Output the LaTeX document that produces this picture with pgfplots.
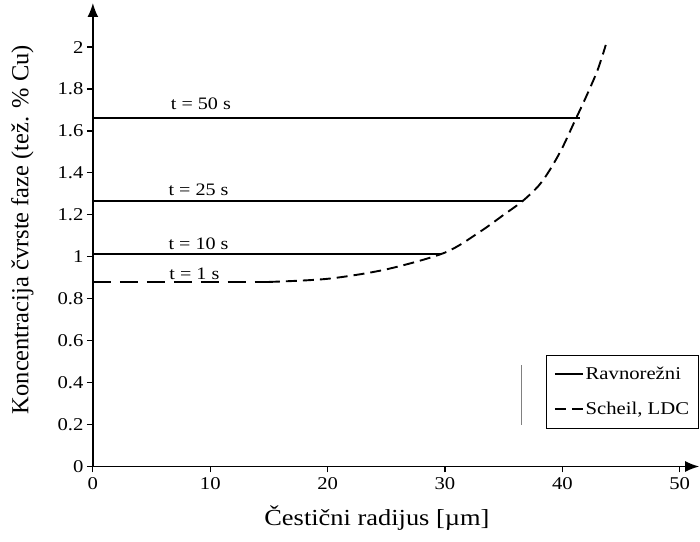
\documentclass[border=0pt]{standalone}
\usepackage{fontspec}
\setmainfont[FakeStretch=1.15]{Liberation Serif}
\newfontfamily\plainserif{Liberation Serif}
\usepackage{pgfplots}
\pgfplotsset{compat=1.18}
\usetikzlibrary{arrows.meta}
\begin{document}
\begin{tikzpicture}[>={Latex[length=14pt,width=11pt]}]
\begin{axis}[
  scale only axis, width=607pt, height=464pt,
  xmin=0, xmax=51.66, ymin=0, ymax=2.21,
  axis lines=left,
  axis line style={line width=1.6pt},
  x axis line style={->},
  y axis line style={->},
  xtick={0,10,...,50}, ytick={0,0.2,...,2.0},
  yticklabels={0,0.2,0.4,0.6,0.8,1,1.2,1.4,1.6,1.8,2},
  tick align=outside, major tick length=6pt,
  tick style={line width=1.2pt, black},
  /pgf/number format/assume math mode=true,
  ticklabel style={font=\fontsize{18}{20}\selectfont},
  xticklabel style={yshift=-2pt},
  xlabel={Čestični radijus [µm]},
  ylabel={Koncentracija čvrste faze (tež. \% Cu)},
  xlabel style={font=\fontsize{23}{26}\selectfont, at={(axis cs:24.2,0)}, anchor=north, yshift=-36pt},
  ylabel style={font=\plainserif\fontsize{24.5}{28}\selectfont, at={(axis description cs:-0.092,0.511)}, anchor=south},
  legend style={at={(axis cs:51.6,0.533)}, anchor=north east, draw=black, line width=0.9pt,
    font=\fontsize{18}{20}\selectfont, row sep=17pt, inner xsep=7pt, inner ysep=10pt,
    /tikz/every even column/.append style={column sep=2pt}},
  legend cell align=left,
  legend image code/.code={\draw[#1] (0pt,0pt) -- (28pt,0pt);},
  clip=false,
]
\addplot[black, line width=1.9pt] coordinates {(0,1.015) (29.7,1.015)};
\addlegendentry{Ravnorežni}
\addplot[black, line width=1.9pt, dash pattern=on 11pt off 6pt, smooth, tension=0.5] coordinates {
 (15,0.88) (20,0.895) (25,0.94) (30,1.02) (33,1.12) (35,1.2) (36.6,1.265)
 (38,1.34) (39,1.42) (40,1.52) (41,1.64) (42,1.76) (43,1.89) (43.7,2.01)};
\addlegendentry{Scheil, LDC}
\addplot[black, line width=2.2pt, dash pattern=on 18pt off 9pt, forget plot] coordinates {(0,0.88) (15,0.88)};
\addplot[black, line width=1.9pt, forget plot] coordinates {(0,1.265) (36.6,1.265)};
\addplot[black, line width=1.9pt, forget plot] coordinates {(0,1.66) (41.5,1.66)};
\draw[gray, line width=0.6pt] (axis cs:36.5,0.2) -- (axis cs:36.5,0.486);
\node[font=\fontsize{17.5}{19}\selectfont] at (axis cs:9.2,1.729) {t = 50 s};
\node[font=\fontsize{17.5}{19}\selectfont] at (axis cs:9.0,1.319) {t = 25 s};
\node[font=\fontsize{17.5}{19}\selectfont] at (axis cs:9.0,1.062) {t = 10 s};
\node[font=\fontsize{17.5}{19}\selectfont] at (axis cs:8.65,0.919) {t = 1 s};
\path (axis description cs:-0.1532,-0.1616) (axis description cs:1,1.0065);
\end{axis}
\end{tikzpicture}
\end{document}
